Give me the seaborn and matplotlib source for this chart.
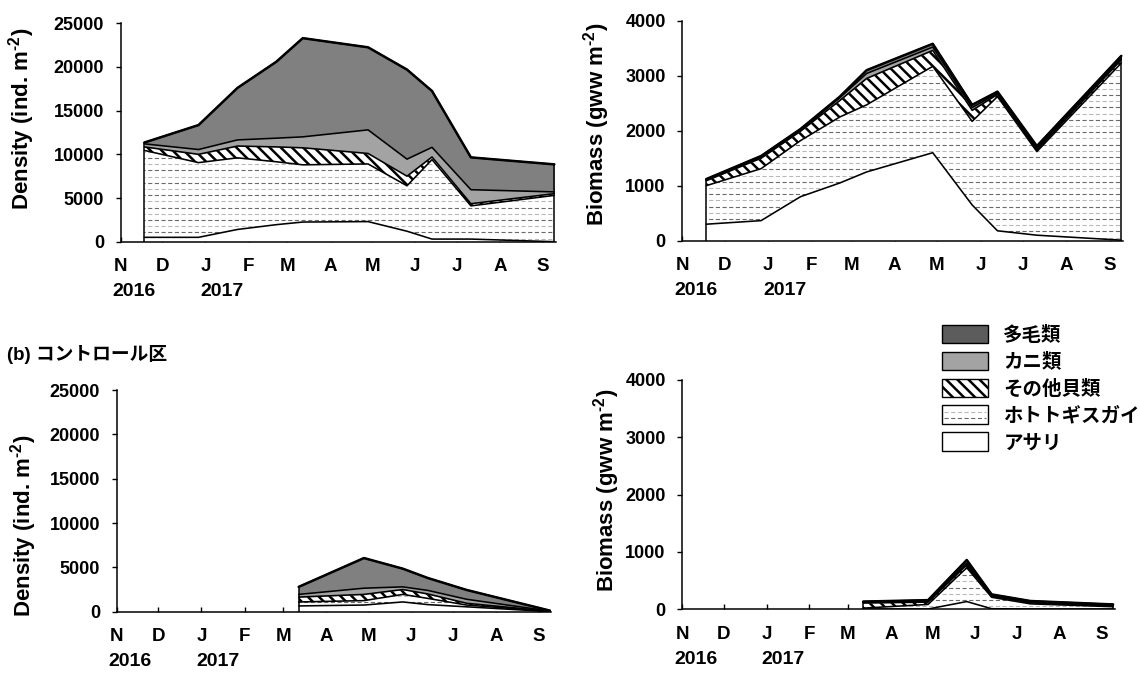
import numpy as np
import pandas as pd
import matplotlib
matplotlib.use("Agg")
import matplotlib.pyplot as plt
import seaborn as sns
from matplotlib.patches import Patch, Rectangle
from matplotlib.lines import Line2D
from matplotlib.legend_handler import HandlerBase

# ---------------------------------------------------------------- data
site_dates = ["2016-11-18", "2016-12-27", "2017-01-24", "2017-02-21", "2017-03-12",
              "2017-04-28", "2017-05-26", "2017-06-13", "2017-07-11", "2017-09-09"]
control_dates = ["2017-03-12", "2017-04-28", "2017-05-26", "2017-06-13",
                 "2017-07-11", "2017-09-09"]

# stacking order, bottom layer first
groups = ["アサリ", "ホトトギスガイ", "その他貝類", "カニ類", "多毛類"]
legend_order = ["多毛類", "カニ類", "その他貝類", "ホトトギスガイ", "アサリ"]

# density (ind. m-2), experimental site
site_density = {
    "アサリ":       [500, 500, 1400, 1950, 2250, 2300, 1200, 300, 300, 0],
    "ホトトギスガイ": [9950, 8550, 8200, 7200, 6550, 6600, 5200, 9100, 3800, 5300],
    "その他貝類":    [400, 950, 1350, 1700, 1950, 1200, 1100, 300, 250, 200],
    "カニ類":       [350, 550, 700, 1000, 1250, 2700, 1950, 1100, 1600, 200],
    "多毛類":       [150, 2800, 5950, 8750, 11300, 9450, 10250, 6450, 3700, 3150],
}
# biomass (gww m-2), experimental site
site_biomass = {
    "アサリ":       [300, 365, 800, 1050, 1250, 1600, 650, 180, 100, 10],
    "ホトトギスガイ": [700, 945, 1020, 1200, 1220, 1570, 1520, 2440, 1520, 3220],
    "その他貝類":    [90, 190, 170, 300, 480, 290, 200, 40, 30, 60],
    "カニ類":       [15, 20, 20, 50, 90, 60, 50, 20, 30, 30],
    "多毛類":       [15, 20, 20, 20, 60, 60, 50, 30, 40, 40],
}
# density (ind. m-2), control plot
control_density = {
    "アサリ":       [650, 750, 1100, 800, 550, 10],
    "ホトトギスガイ": [450, 500, 850, 700, 200, 20],
    "その他貝類":    [550, 700, 550, 500, 200, 20],
    "カニ類":       [300, 700, 300, 400, 450, 20],
    "多毛類":       [850, 3400, 2050, 1400, 1050, 50],
}
# biomass (gww m-2), control plot
control_biomass = {
    "アサリ":       [5, 5, 135, 10, 5, 5],
    "ホトトギスガイ": [15, 80, 590, 200, 90, 40],
    "その他貝類":    [90, 40, 50, 20, 20, 15],
    "カニ類":       [10, 15, 30, 10, 10, 10],
    "多毛類":       [15, 20, 55, 20, 20, 15],
}

month_letters = ["N", "D", "J", "F", "M", "A", "M", "J", "J", "A", "S"]
year_marks = {"2016-11-01": "2016", "2017-01-01": "2017"}
axis_start = "2016-11-01"
axis_end = "2017-09-10"

# ---------------------------------------------------------------- style
sns.set_theme(style="ticks", rc={
    "axes.edgecolor": "black", "axes.linewidth": 1.1,
    "xtick.color": "black", "ytick.color": "black", "text.color": "black",
    "axes.labelcolor": "black",
})
plt.rcParams["font.family"] = ["Liberation Sans", "Noto Sans CJK JP"]
plt.rcParams["font.weight"] = "bold"
plt.rcParams["mathtext.fontset"] = "custom"
plt.rcParams["mathtext.rm"] = "Liberation Sans"
plt.rcParams["mathtext.bf"] = "Liberation Sans:bold"
plt.rcParams["hatch.linewidth"] = 1.8
plt.rcParams["lines.scale_dashes"] = False

DARK = "#808080"
CRAB = "#a3a3a3"
DIAG = "\\\\\\"
DASH_COLORS = ["#b8b8b8", "#6a6a6a"]   # alternating rows of the dashed texture
DASH_STYLE = (0, (3.0, 1.8))
DASH_SPACING_PX = 6.2

W, H = 1140, 673
fig = plt.figure(figsize=(W / 100, H / 100), dpi=100)


def px_axes(left, right, top, bottom):
    return fig.add_axes([left / W, 1 - bottom / H, (right - left) / W, (bottom - top) / H])


def day_index(dates):
    return (pd.to_datetime(pd.Series(dates)) - pd.Timestamp(axis_start)).dt.days.to_numpy()


def dashed_texture(ax, region, ymax, height_px):
    """Horizontal dashed rows clipped to a filled region."""
    step = ymax / height_px * DASH_SPACING_PX
    rows = np.arange(step / 2, ymax, step)
    xmin, xmax = ax.get_xlim()
    for k, colour in enumerate(DASH_COLORS):
        lc = ax.hlines(rows[k::2], xmin, xmax, colors=colour, linewidth=0.8,
                       linestyles=[DASH_STYLE], zorder=1.2)
        lc.set_clip_path(region.get_paths()[0], ax.transData)


def draw_panel(ax, dates, values, ymax, ystep, ylabel, label_xy, height_px):
    x = day_index(dates)
    ax.set_xlim(0, day_index([axis_end])[0])
    ax.set_ylim(0, ymax)
    lower = np.zeros(len(x))
    tops = []
    for g in groups:
        upper = lower + np.asarray(values[g], dtype=float)
        if g == "ホトトギスガイ":
            region = ax.fill_between(x, lower, upper, facecolor="white", linewidth=0, zorder=1)
            dashed_texture(ax, region, ymax, height_px)
        elif g == "その他貝類":
            ax.fill_between(x, lower, upper, facecolor="white", edgecolor="black",
                            hatch=DIAG, linewidth=0, zorder=1)
        else:
            face = {"アサリ": "white", "カニ類": CRAB, "多毛類": DARK}[g]
            ax.fill_between(x, lower, upper, facecolor=face, linewidth=0, zorder=1)
        tops.append(pd.DataFrame({"day": x, "top": upper, "layer": g}))
        lower = upper

    lines = pd.concat(tops, ignore_index=True)
    sns.lineplot(data=lines, x="day", y="top", units="layer", estimator=None,
                 sort=False, color="black", linewidth=1.15, legend=False, ax=ax, zorder=3)
    sns.lineplot(x=x, y=lower, color="black", linewidth=1.8, ax=ax, zorder=3.1)
    ax.vlines([x[0], x[-1]], 0, [lower[0], lower[-1]], color="black", linewidth=1.1, zorder=3)

    ax.set_xlim(0, day_index([axis_end])[0])
    ax.set_ylim(0, ymax)
    ticks = pd.date_range(axis_start, periods=len(month_letters), freq="MS")
    ax.set_xticks(day_index(ticks))
    ax.set_xticklabels(month_letters, fontsize=13.5, fontweight="bold")
    yt = np.arange(0, ymax + 1, ystep)
    ax.set_yticks(yt)
    ax.set_yticklabels([f"{int(v)}" for v in yt], fontsize=13, fontweight="bold")
    ax.tick_params(axis="x", direction="in", length=3.6, width=1.0, pad=12)
    ax.tick_params(axis="y", direction="out", length=3.5, width=1.0, pad=8.5)
    for d, txt in year_marks.items():
        xd = day_index([d])[0]
        off = -6 if txt == "2016" else -3.5
        ax.annotate(txt, xy=(xd, 0), xycoords=("data", "axes fraction"),
                    xytext=(off, -36), textcoords="offset points",
                    ha="left", va="center", fontsize=14, fontweight="bold")
    ax.set_ylabel(ylabel, fontsize=16, fontweight="bold")
    ax.yaxis.set_label_coords(*label_xy)
    ax.set_xlabel("")
    ax.grid(False)
    sns.despine(ax=ax)


dens_label = r"Density (ind. m$^{\text{-}2}$)"
bio_label = r"Biomass (gww m$^{\text{-}2}$)"

ax1 = px_axes(120.7, 555.7, 23.3, 241.7)
draw_panel(ax1, site_dates, site_density, 25000, 5000, dens_label, (-0.192, 0.562), 218.4)
ax2 = px_axes(682.3, 1122.7, 20.7, 240.7)
draw_panel(ax2, site_dates, site_biomass, 4000, 1000, bio_label, (-0.160, 0.530), 220.0)
ax3 = px_axes(116.8, 551.4, 390, 611.7)
draw_panel(ax3, control_dates, control_density, 25000, 5000, dens_label, (-0.178, 0.387), 221.7)
ax4 = px_axes(682.3, 1114.5, 380, 609.3)
draw_panel(ax4, control_dates, control_biomass, 4000, 1000, bio_label, (-0.140, 0.517), 229.3)

fig.text(7 / W, 1 - 355 / H, "(b) コントロール区", ha="left", va="center",
         fontsize=13.5, fontweight="bold")


class DashedBoxHandler(HandlerBase):
    """Legend key: white box with two rows of dashes."""

    def create_artists(self, legend, orig_handle, xdescent, ydescent, width, height,
                       fontsize, trans):
        x0, y0 = -xdescent, -ydescent
        box = Rectangle((x0, y0), width, height, facecolor="white", edgecolor="black",
                        linewidth=1.0, transform=trans)
        arts = [box]
        for frac, colour in zip([0.66, 0.33], DASH_COLORS):
            ln = Line2D([x0 + 1.5, x0 + width - 1.5], [y0 + height * frac] * 2,
                        color=colour, linewidth=0.8, linestyle=DASH_STYLE, transform=trans)
            arts.append(ln)
        return arts


musculista_key = Patch(facecolor="white", edgecolor="black")
handles = {
    "多毛類": Patch(facecolor="#5c5c5c", edgecolor="black", linewidth=1.0),
    "カニ類": Patch(facecolor=CRAB, edgecolor="black", linewidth=1.0),
    "その他貝類": Patch(facecolor="white", edgecolor="black", hatch=DIAG, linewidth=1.0),
    "ホトトギスガイ": musculista_key,
    "アサリ": Patch(facecolor="white", edgecolor="black", linewidth=1.0),
}
fig.legend([handles[g] for g in legend_order], legend_order,
           loc="upper left", bbox_to_anchor=(942.3 / W, 1 - 325 / H),
           frameon=False, borderpad=0, borderaxespad=0,
           handlelength=2.37, handleheight=1.08, labelspacing=0.36, handletextpad=0.77,
           prop={"family": ["Noto Sans CJK JP"], "weight": "bold", "size": 14},
           handler_map={musculista_key: DashedBoxHandler()})

fig.savefig("out.png", dpi=100)
